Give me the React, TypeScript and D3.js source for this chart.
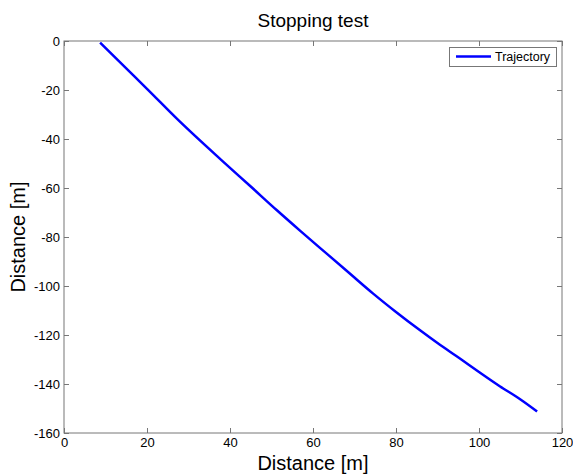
import React, { useEffect, useRef } from 'react';
import { select, scaleLinear, axisBottom, axisLeft, axisTop, axisRight, line, curveMonotoneX } from 'd3';

// trajectory
const xs = [8.7, 15, 20, 27.5, 38, 45, 51.3, 57, 63.3, 69, 74.5, 80, 85.8, 90, 95.4, 100, 105, 110, 114];
const ys = [-0.7, -11.2, -19.5, -32.2, -48.7, -59.4, -69.1, -77.6, -86.8, -95.1, -103.1, -110.6, -118.1, -123.3, -129.6, -135.1, -140.9, -146.3, -151.2];
const xTicks = [0, 20, 40, 60, 80, 100, 120];
const yTicks = [0, -20, -40, -60, -80, -100, -120, -140, -160];

const W = 573;
const H = 474;
const m = { left: 64, right: 562, top: 41, bottom: 433 };
const font = 'Liberation Sans, Arial, sans-serif';

const App = () => {
    const svgRef = useRef<SVGSVGElement>(null);

    useEffect(() => {
        const svg = select(svgRef.current);
        svg.selectAll('*').remove();

        const x = scaleLinear().domain([0, 120]).range([m.left, m.right]);
        const y = scaleLinear().domain([-160, 0]).range([m.bottom, m.top]);

        svg.append('rect').attr('width', W).attr('height', H).attr('fill', '#fff');

        const styleAxis = (g, labels) => {
            g.select('.domain').remove();
            g.selectAll('line').attr('stroke', '#777');
            g.selectAll('text')
                .attr('font-family', font)
                .attr('font-size', 13)
                .attr('fill', '#000');
            if (!labels) g.selectAll('text').remove();
        };
        const fmt = d => String(d);

        svg.append('g')
            .attr('transform', `translate(0,${m.bottom})`)
            .call(axisBottom(x).tickValues(xTicks).tickFormat(fmt).tickSize(-5).tickPadding(5))
            .call(g => styleAxis(g, true));
        svg.append('g')
            .attr('transform', `translate(0,${m.top})`)
            .call(axisTop(x).tickValues(xTicks).tickSize(-5))
            .call(g => styleAxis(g, false));
        svg.append('g')
            .attr('transform', `translate(${m.left},0)`)
            .call(axisLeft(y).tickValues(yTicks).tickFormat(fmt).tickSize(-5).tickPadding(4))
            .call(g => styleAxis(g, true));
        svg.append('g')
            .attr('transform', `translate(${m.right},0)`)
            .call(axisRight(y).tickValues(yTicks).tickSize(-5))
            .call(g => styleAxis(g, false));

        svg.append('rect')
            .attr('x', m.left).attr('y', m.top)
            .attr('width', m.right - m.left).attr('height', m.bottom - m.top)
            .attr('fill', 'none').attr('stroke', '#777');

        const path = line<number>()
            .x((d, i) => x(xs[i]))
            .y(d => y(d))
            .curve(curveMonotoneX);

        svg.append('path')
            .datum(ys)
            .attr('d', path)
            .attr('fill', 'none')
            .attr('stroke', '#0000ff')
            .attr('stroke-width', 2.5)
            .attr('stroke-linejoin', 'round');

        // title + labels
        svg.append('text')
            .attr('x', (m.left + m.right) / 2).attr('y', 27)
            .attr('text-anchor', 'middle')
            .attr('font-family', font).attr('font-size', 19)
            .text('Stopping test');
        svg.append('text')
            .attr('x', (m.left + m.right) / 2).attr('y', 470)
            .attr('text-anchor', 'middle')
            .attr('font-family', font).attr('font-size', 20)
            .text('Distance [m]');
        svg.append('text')
            .attr('transform', `translate(25,${(m.top + m.bottom) / 2}) rotate(-90)`)
            .attr('text-anchor', 'middle')
            .attr('font-family', font).attr('font-size', 20)
            .text('Distance [m]');

        // legend
        const lg = svg.append('g');
        lg.append('rect')
            .attr('x', 449.5).attr('y', 47.5).attr('width', 107).attr('height', 19)
            .attr('fill', '#fff').attr('stroke', '#777');
        lg.append('line')
            .attr('x1', 456).attr('x2', 491).attr('y1', 56.5).attr('y2', 56.5)
            .attr('stroke', '#0000ff').attr('stroke-width', 2.5);
        lg.append('text')
            .attr('x', 495).attr('y', 61)
            .attr('font-family', font).attr('font-size', 12.5)
            .text('Trajectory');
    }, []);

    return (
        <svg ref={svgRef} width={W} height={H} style={{ position: 'absolute', left: 0, top: 0 }}></svg>
    );
};

export default App;
